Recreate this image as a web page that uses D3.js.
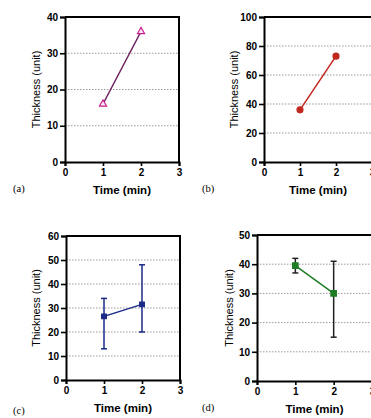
<!DOCTYPE html>
<html>
<head>
<meta charset="utf-8">
<script src="https://cdn.jsdelivr.net/npm/d3@7"></script>
<style>
  html, body { margin: 0; padding: 0; background: #fff; }
  svg { display: block; }
</style>
</head>
<body>
<svg id="chart" width="371" height="418"></svg>
<script>
// Thickness measured at two time points, four experiments
const timePoints = [1, 2];
const xTicks = [0, 1, 2, 3];

const thicknessA = [16, 36];
const yTicksA = [0, 10, 20, 30, 40];

const thicknessB = [36, 73];
const yTicksB = [0, 20, 40, 60, 80, 100];

const thicknessC = [26.5, 31.5];
const errorLowC = [13, 20];
const errorHighC = [34, 48];
const yTicksC = [0, 10, 20, 30, 40, 50, 60];

const thicknessD = [39.5, 30];
const errorLowD = [37, 15];
const errorHighD = [42, 41];
const yTicksD = [0, 10, 20, 30, 40, 50];

const panelLabels = ["(a)", "(b)", "(c)", "(d)"];
const xTitle = "Time (min)";
const yTitle = "Thickness (unit)";

const svg = d3.select("#chart");
const font = "'Liberation Sans', Arial, Helvetica, sans-serif";

const panels = [
  { label: panelLabels[0], values: thicknessA, ticks: yTicksA,
    frame: { l: 65, t: 17, r: 179, b: 162 }, tag: { x: 13, y: 192 }, ytx: 36,
    line: "#6b1f5e", symbol: d3.symbolTriangle, size: 22, fill: "#fbe6f4", stroke: "#c8208f" },
  { label: panelLabels[1], values: thicknessB, ticks: yTicksB,
    frame: { l: 264, t: 17, r: 372, b: 162 }, tag: { x: 202, y: 192 }, ytx: 234,
    line: "#c0281e", symbol: d3.symbolCircle, size: 28, fill: "#c0281e", stroke: "#c0281e" },
  { label: panelLabels[2], values: thicknessC, ticks: yTicksC, lo: errorLowC, hi: errorHighC,
    frame: { l: 66, t: 236, r: 180, b: 380 }, tag: { x: 13, y: 414 }, ytx: 36,
    line: "#1b2a86", symbol: d3.symbolSquare, size: 22, fill: "#1b2a86", stroke: "#1b2a86", err: "#1b2a86" },
  { label: panelLabels[3], values: thicknessD, ticks: yTicksD, lo: errorLowD, hi: errorHighD,
    frame: { l: 257, t: 235, r: 372, b: 381 }, tag: { x: 202, y: 411 }, ytx: 229,
    line: "#1d7d24", symbol: d3.symbolSquare, size: 30, fill: "#1d7d24", stroke: "#1d7d24", err: "#222" }
];

panels.forEach(p => {
  const f = p.frame;
  const x = d3.scaleLinear().domain([0, 3]).range([f.l, f.r]);
  const y = d3.scaleLinear().domain([0, d3.max(p.ticks)]).range([f.b, f.t]);
  const g = svg.append("g");

  // dotted grid lines
  g.selectAll("line.grid")
    .data(p.ticks.slice(1, -1))
    .join("line")
    .attr("x1", f.l).attr("x2", f.r)
    .attr("y1", d => y(d)).attr("y2", d => y(d))
    .attr("stroke", "#9a9a9a").attr("stroke-width", 1)
    .attr("stroke-dasharray", "1.5,1.5");

  // y axis
  const ya = g.append("g").attr("transform", `translate(${f.l},0)`)
    .call(d3.axisLeft(y).tickValues(p.ticks).tickFormat(d3.format("d")).tickSize(5).tickPadding(2));
  // x axis
  const xa = g.append("g").attr("transform", `translate(0,${f.b})`)
    .call(d3.axisBottom(x).tickValues(xTicks).tickFormat(d3.format("d")).tickSize(4).tickPadding(3));
  [ya, xa].forEach(a => {
    a.select(".domain").attr("stroke", "#000").attr("stroke-width", 2);
    a.selectAll(".tick line").attr("stroke", "#000").attr("stroke-width", 1.6);
    a.selectAll(".tick text").attr("fill", "#000")
      .style("font-family", font).style("font-size", "10px").style("font-weight", "bold");
  });

  // top and right frame
  g.append("path")
    .attr("d", `M${f.l},${f.t}H${f.r}V${f.b}`)
    .attr("fill", "none").attr("stroke", "#000").attr("stroke-width", 2);

  const pts = timePoints.map((t, i) => ({ t, v: p.values[i], lo: p.lo ? p.lo[i] : null, hi: p.hi ? p.hi[i] : null }));

  // error bars
  if (p.lo) {
    const eb = g.selectAll("g.err").data(pts).join("g").attr("stroke", p.err).attr("stroke-width", 1.5);
    eb.append("line").attr("x1", d => x(d.t)).attr("x2", d => x(d.t))
      .attr("y1", d => y(d.lo)).attr("y2", d => y(d.hi));
    eb.append("line").attr("x1", d => x(d.t) - 3).attr("x2", d => x(d.t) + 3)
      .attr("y1", d => y(d.lo)).attr("y2", d => y(d.lo));
    eb.append("line").attr("x1", d => x(d.t) - 3).attr("x2", d => x(d.t) + 3)
      .attr("y1", d => y(d.hi)).attr("y2", d => y(d.hi));
  }

  // connecting line
  g.append("path").datum(pts)
    .attr("d", d3.line().x(d => x(d.t)).y(d => y(d.v)))
    .attr("fill", "none").attr("stroke", p.line).attr("stroke-width", 1.5);

  // markers
  g.selectAll("path.mark").data(pts).join("path")
    .attr("transform", d => `translate(${x(d.t)},${y(d.v)})`)
    .attr("d", d3.symbol().type(p.symbol).size(p.size))
    .attr("fill", p.fill).attr("stroke", p.stroke).attr("stroke-width", 1.2);

  // axis titles
  g.append("text")
    .attr("x", (f.l + f.r) / 2)
    .attr("y", f.b + 32)
    .attr("text-anchor", "middle")
    .style("font-family", font).style("font-size", "11.5px").style("font-weight", "bold")
    .text(xTitle);

  g.append("text")
    .attr("transform", `translate(${p.ytx},${(f.t + f.b) / 2}) rotate(-90)`)
    .attr("text-anchor", "middle").attr("dy", "0.35em")
    .style("font-family", font).style("font-size", "11px")
    .text(yTitle);

  // panel tag
  g.append("text")
    .attr("x", p.tag.x).attr("y", p.tag.y)
    .style("font-family", "'Liberation Serif', 'Times New Roman', serif").style("font-size", "10.5px")
    .text(p.label);
});
</script>
</body>
</html>
